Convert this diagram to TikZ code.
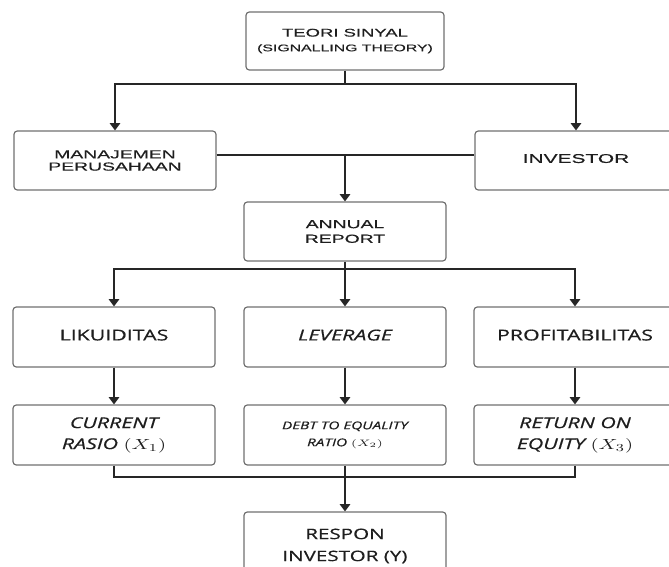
\documentclass[tikz,border=0pt]{standalone}
\usepackage{fontspec}
\usepackage{graphicx}
\newfontfamily\fa[FakeStretch=1.65,FakeBold=0.4]{Liberation Sans}
\newfontfamily\fo[FakeStretch=1.43,FakeBold=0.6]{Open Sans}
\usetikzlibrary{arrows.meta}
\definecolor{bordergray}{HTML}{707070}
\definecolor{txt}{HTML}{1E1E1E}
\tikzset{
  box/.style={draw=bordergray, line width=0.9pt, rounded corners=2.5pt,
    minimum width=151.5pt, minimum height=44.25pt, align=center, text=txt, inner sep=0pt},
  conn/.style={draw=black!85, line width=0.8pt},
  arr/.style={conn, -{Triangle[length=5.5pt,width=8pt]}},
}
\newcommand{\sxm}[1]{\scalebox{1.43}[1]{#1}}
\begin{document}
\begin{tikzpicture}[x=0.75pt,y=-0.75pt]
\clip (0,0) rectangle (669,567);
% nodes
\node[box, minimum width=148.5pt, minimum height=43.5pt, font=\fa\fontsize{8.4}{11}\selectfont] (top) at (345,41)
  {TEORI SINYAL\\{\fontsize{7.2}{11}\selectfont (SIGNALLING THEORY)}};
\node[box, font=\fa\fontsize{8.8}{9.2}\selectfont] (mgmt) at (115,160.5) {MANAJEMEN\\PERUSAHAAN};
\node[box, font=\fa\fontsize{9.5}{11}\selectfont] (inv) at (576,160.5) {\raisebox{3pt}{INVESTOR}};
\node[box, font=\fa\fontsize{8.8}{11}\selectfont] (ar) at (345,231.5) {ANNUAL\\REPORT};
\node[box, minimum height=45pt, font=\fo\fontsize{11.2}{13}\selectfont] (liq) at (114,337) {\raisebox{3pt}{LIKUIDITAS}};
\node[box, minimum height=45pt, font=\fo\fontsize{11.2}{13}\selectfont\itshape] (lev) at (345,337) {\raisebox{3pt}{LEVERAGE}};
\node[box, minimum height=45pt, font=\fo\fontsize{11.2}{13}\selectfont] (prof) at (575,337) {\raisebox{3pt}{PROFITABILITAS}};
\node[box, minimum height=45pt, font=\fo\fontsize{11.2}{15.75}\selectfont\itshape] (cr) at (114,435) {CURRENT\\RASIO \sxm{$(X_1)$}};
\node[box, minimum height=45pt, font=\fo\fontsize{8}{12.75}\selectfont\itshape] (der) at (345,435) {\raisebox{2pt}{\parbox{150pt}{\centering DEBT TO EQUALITY\\RATIO \sxm{\scriptsize$(X_2)$}}}};
\node[box, minimum height=45pt, font=\fo\fontsize{11.2}{15.75}\selectfont\itshape] (roe) at (575,435) {RETURN ON\\EQUITY \sxm{$(X_3)$}};
\node[box, minimum height=51pt, font=\fo\fontsize{10.8}{16.5}\selectfont] (resp) at (345,546) {RESPON\\INVESTOR (Y)};
% junctions
\coordinate (j1) at (345,84);
\coordinate (j2) at (345,155);
\coordinate (j3) at (345,269);
\coordinate (j4) at (345,477);
% connectors
\draw[conn] (top.south) -- (j1);
\draw[arr] (j1) -| (mgmt.north);
\draw[arr] (j1) -| (inv.north);
\draw[conn] (mgmt.east |- j2) -- (inv.west |- j2);
\draw[arr] (j2) -- (ar.north);
\draw[conn] (ar.south) -- (j3);
\draw[arr] (j3) -| (liq.north);
\draw[arr] (j3) -- (lev.north);
\draw[arr] (j3) -| (prof.north);
\draw[arr] (liq.south) -- (cr.north);
\draw[arr] (lev.south) -- (der.north);
\draw[arr] (prof.south) -- (roe.north);
\draw[conn] (cr.south) |- (j4);
\draw[conn] (roe.south) |- (j4);
\draw[conn] (der.south) -- (j4);
\draw[arr] (j4) -- (resp.north);
\end{tikzpicture}
\end{document}
